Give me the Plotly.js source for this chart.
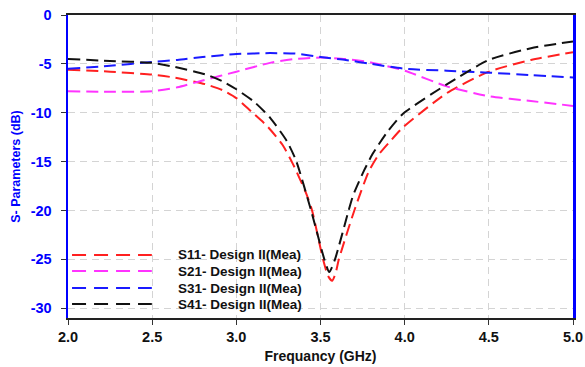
<!DOCTYPE html>
<html>
<head>
<meta charset="utf-8">
<script src="https://cdn.plot.ly/plotly-3.0.1.min.js"></script>
<style>html,body{margin:0;padding:0;background:#fff}#chart{width:585px;height:367px}</style>
</head>
<body>
<div id="chart"></div>
<script>
// S11 (red) and S41 (black) have their own frequency samples around the notch
const freqS11 = [2.0, 2.25, 2.5, 2.63, 2.82, 2.92, 3.0, 3.09, 3.185, 3.275, 3.335, 3.416, 3.45, 3.515, 3.545, 3.569, 3.59, 3.609, 3.701, 3.787, 3.845, 3.92, 3.99, 4.25, 4.5, 4.75, 5.0];
const s11 = [-5.6, -5.8, -6.1, -6.4, -7.1, -7.7, -8.5, -9.9, -11.4, -13.3, -15.2, -18.3, -20.0, -25.0, -26.7, -27.2, -26.4, -25.0, -20.0, -16.0, -14.3, -12.8, -11.5, -8.0, -5.8, -4.6, -3.8];

const freqS41 = [2.0, 2.25, 2.5, 2.63, 2.82, 2.92, 3.0, 3.107, 3.2, 3.3, 3.355, 3.444, 3.523, 3.552, 3.586, 3.667, 3.695, 3.759, 3.81, 3.9, 3.99, 4.25, 4.5, 4.75, 5.0];
const s41 = [-4.5, -4.7, -4.9, -5.3, -6.1, -6.8, -7.6, -8.9, -10.5, -12.9, -14.9, -20.0, -25.0, -26.3, -25.0, -20.0, -18.4, -15.9, -14.2, -11.9, -10.1, -7.1, -4.6, -3.4, -2.7];

// S21 (magenta) and S31 (blue) share a frequency grid
const freq = [2.0, 2.25, 2.5, 2.65, 2.8, 3.0, 3.2, 3.35, 3.5, 3.65, 3.8, 4.0, 4.25, 4.5, 4.75, 5.0];
const s21 = [-7.8, -7.85, -7.8, -7.4, -6.7, -5.8, -4.9, -4.5, -4.35, -4.5, -4.85, -5.7, -7.3, -8.3, -8.8, -9.3];
const s31 = [-5.5, -5.2, -4.8, -4.6, -4.3, -4.0, -3.9, -3.95, -4.3, -4.6, -5.0, -5.5, -5.7, -5.9, -6.15, -6.4];

const names = ["S11- Design II(Mea)", "S21- Design II(Mea)", "S31- Design II(Mea)", "S41- Design II(Mea)"];
const colors = ["#ff2020", "#ff33ff", "#1a1aff", "#111111"];
const xTicks = [2.0, 2.5, 3.0, 3.5, 4.0, 4.5, 5.0];
const xTickText = ["2.0", "2.5", "3.0", "3.5", "4.0", "4.5", "5.0"];
const yTicks = [0, -5, -10, -15, -20, -25, -30];
const yTickText = ["0", "-5", "-10", "-15", "-20", "-25", "-30"];

const fontFam = "Arial, 'Liberation Sans', sans-serif";
const dashPat = "12px,6px";

const series = [[freqS11, s11], [freq, s21], [freq, s31], [freqS41, s41]];
const traces = series.map((s, i) => ({
  x: s[0], y: s[1], name: names[i], type: "scatter", mode: "lines", showlegend: false,
  line: {color: colors[i], width: 2, dash: dashPat, shape: "spline", smoothing: 0.6}
}));

// legend drawn inside the plot, lower-left (paper coordinates)
const legRowsY = [0.208, 0.155, 0.099, 0.046];
const legShapes = names.map((n, i) => ({
  type: "line", xref: "paper", yref: "paper",
  x0: 0.008, x1: 0.166, y0: legRowsY[i], y1: legRowsY[i],
  line: {color: colors[i], width: 2, dash: "14px,8px"}
}));
const legText = names.map((n, i) => ({
  xref: "paper", yref: "paper", x: 0.214, y: legRowsY[i],
  xanchor: "left", yanchor: "middle", showarrow: false,
  text: "<b>" + n + "</b>",
  font: {family: fontFam, size: 13.5, color: "#111"}
}));

const layout = {
  width: 585, height: 367,
  margin: {l: 68, r: 12, t: 15, b: 49},
  paper_bgcolor: "#fff", plot_bgcolor: "#fff",
  font: {family: fontFam},
  showlegend: false,
  shapes: legShapes,
  annotations: legText,
  xaxis: {
    range: [2, 5], tickvals: xTicks, ticktext: xTickText.map(t => "<b>" + t + "</b>"),
    showline: true, linecolor: "#222", linewidth: 2, mirror: true,
    ticks: "outside", ticklen: 5, tickcolor: "#333", tickwidth: 1,
    showgrid: true, gridcolor: "#d4d4d4", griddash: "7px,5px", gridwidth: 1,
    zeroline: false,
    tickfont: {family: fontFam, size: 14.5, color: "#111"},
    title: {text: "<b>Frequancy (GHz)</b>", font: {family: fontFam, size: 14, color: "#111"}, standoff: 7}
  },
  yaxis: {
    range: [-31, 0], tickvals: yTicks, ticktext: yTickText.map(t => "<b>" + t + "</b>"),
    showline: true, linecolor: "#0000ff", linewidth: 2.5, mirror: true,
    ticks: "outside", ticklen: 5, tickcolor: "#333", tickwidth: 1,
    showgrid: true, gridcolor: "#d4d4d4", griddash: "7px,5px", gridwidth: 1,
    zeroline: false, ticklabelstandoff: 6,
    tickfont: {family: fontFam, size: 14.5, color: "#0000ff"},
    title: {text: "<b>S- Parameters (dB)</b>", font: {family: fontFam, size: 12.5, color: "#0000ff"}, standoff: 8}
  }
};

Plotly.newPlot("chart", traces, layout, {staticPlot: true, displayModeBar: false});
</script>
</body>
</html>
